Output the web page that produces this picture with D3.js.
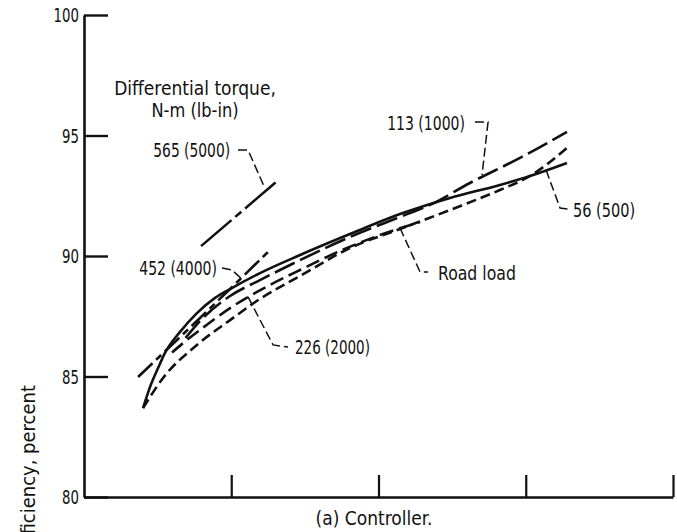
<!DOCTYPE html>
<html>
<head>
<meta charset="utf-8">
<script src="https://cdn.jsdelivr.net/npm/d3@7"></script>
<style>
  html, body { margin: 0; padding: 0; background: #fff; }
  svg { display: block; }
  text { font-family: "DejaVu Sans Condensed", "Liberation Sans Narrow", "Liberation Sans", sans-serif; fill: #111; }
</style>
</head>
<body>
<svg id="chart" width="677" height="532"></svg>
<script>
// Controller efficiency, percent, against speed (relative units) for several differential torques.
const yTicks = [80, 85, 90, 95, 100];
const xTicks = [1, 2, 3, 4];

const series56 = [
  [0.401, 83.69], [0.448, 84.56], [0.503, 85.35], [0.550, 85.98], [0.652, 86.85],
  [0.767, 87.63], [0.890, 88.26], [0.992, 88.63], [1.195, 89.29], [1.467, 90.04],
  [1.806, 90.91], [2.146, 91.74], [2.486, 92.41], [2.825, 92.95], [3.029, 93.32],
  [3.280, 93.86]
];
const series113 = [
  [0.690, 86.60], [0.788, 87.30], [0.992, 88.34],
  [1.195, 89.00], [1.467, 89.83], [1.806, 90.79], [2.146, 91.62], [2.350, 92.12],
  [2.621, 93.03], [2.961, 94.07], [3.280, 95.15]
];
const series226 = [
  [0.598, 86.00], [0.686, 86.45], [0.835, 87.15], [0.992, 87.84],
  [1.114, 88.30], [1.263, 88.80], [1.467, 89.42], [1.739, 90.21], [2.010, 90.87],
  [2.282, 91.41]
];
const series452 = [[0.367, 84.98], [0.788, 87.43], [1.250, 90.17]];
const series565 = [[0.795, 90.41], [1.304, 93.07]];
const seriesRoad = [
  [0.401, 83.69], [0.537, 84.94], [0.767, 86.31], [0.992, 87.34], [1.195, 88.22],
  [1.467, 89.17], [1.806, 90.33], [2.146, 91.12], [2.486, 91.91], [2.825, 92.74],
  [3.029, 93.32], [3.280, 94.48]
];

const curveLabels = ["56 (500)", "113 (1000)", "226 (2000)", "452 (4000)", "565 (5000)", "Road load"];

const svg = d3.select("#chart");
const x = d3.scaleLinear().domain([0, 4]).range([84, 673]);
const y = d3.scaleLinear().domain([80, 100]).range([497, 15]);

// Text drawn in a narrowed face: translate to the anchor, then squeeze horizontally.
function narrowText(g, px, py, str, opts) {
  const o = Object.assign({ size: 19, sx: 1, anchor: "start", dy: "0.35em" }, opts || {});
  return g.append("text")
    .attr("transform", `translate(${px},${py}) scale(${o.sx},1)`)
    .attr("text-anchor", o.anchor)
    .attr("dy", o.dy)
    .attr("font-size", o.size)
    .text(str);
}

// Axes
const yAxis = d3.axisLeft(y).tickValues(yTicks).tickSize(-24).tickSizeOuter(0).tickFormat("");
const gy = svg.append("g").attr("transform", `translate(${x(0)},0)`).call(yAxis);
gy.select(".domain").attr("stroke", "#111").attr("stroke-width", 2.6);
gy.selectAll(".tick line").attr("stroke", "#111").attr("stroke-width", 2.4);
const gyLabels = svg.append("g");
yTicks.forEach(v => narrowText(gyLabels, x(0) - 5, y(v), d3.format("d")(v),
  { size: 20, sx: 0.74, anchor: "end" }));

const xAxis = d3.axisBottom(x).tickValues(xTicks).tickSize(-22).tickSizeOuter(0).tickFormat("");
const gx = svg.append("g").attr("transform", `translate(0,${y(80)})`).call(xAxis);
gx.select(".domain").attr("stroke", "#111").attr("stroke-width", 2.6);
gx.selectAll(".tick line").attr("stroke", "#111").attr("stroke-width", 2.2);

// Curves
const line = d3.line().x(d => x(d[0])).y(d => y(d[1])).curve(d3.curveMonotoneX);
const curves = [
  { data: series56, dash: null },
  { data: series113, dash: "22,6" },
  { data: series226, dash: "14,6" },
  { data: series452, dash: "20,5,7,5" },
  { data: series565, dash: "40,5,8,5" },
  { data: seriesRoad, dash: "10,5" }
];
svg.append("g").selectAll("path").data(curves).join("path")
  .attr("d", d => line(d.data))
  .attr("fill", "none")
  .attr("stroke", "#111")
  .attr("stroke-width", 2.6)
  .attr("stroke-dasharray", d => d.dash);

// Leader lines and curve labels
const leaders = [
  { text: curveLabels[4], at: [0.992, 94.40], anchor: "end", sx: 0.81,
    path: [[1.046, 94.40], [1.114, 94.40], [1.222, 92.90]] },
  { text: curveLabels[3], at: [0.903, 89.50], anchor: "end", sx: 0.82,
    path: [[0.937, 89.50], [1.005, 89.42], [1.080, 89.00]] },
  { text: curveLabels[2], at: [1.433, 86.22], anchor: "start", sx: 0.79,
    path: [[1.114, 88.30], [1.284, 86.31], [1.385, 86.22]] },
  { text: curveLabels[1], at: [2.587, 95.52], anchor: "end", sx: 0.82,
    path: [[2.655, 95.56], [2.744, 95.56], [2.703, 93.36]] },
  { text: curveLabels[0], at: [3.321, 91.91], anchor: "start", sx: 0.85,
    path: [[3.138, 93.57], [3.233, 91.99], [3.287, 91.95]] },
  { text: curveLabels[5], at: [2.404, 89.29], anchor: "start", sx: 0.92,
    path: [[2.146, 91.16], [2.282, 89.34], [2.336, 89.34]] }
];
const straight = d3.line().x(d => x(d[0])).y(d => y(d[1]));
const gl = svg.append("g");
gl.selectAll("path").data(leaders).join("path")
  .attr("d", d => straight(d.path))
  .attr("fill", "none").attr("stroke", "#111").attr("stroke-width", 1.5)
  .attr("stroke-dasharray", "9,4");
leaders.forEach(d => narrowText(gl, x(d.at[0]), y(d.at[1]), d.text,
  { size: 19, sx: d.sx, anchor: d.anchor }));

// Legend heading
narrowText(svg, 195, 95, "Differential torque,", { anchor: "middle", dy: 0 });
narrowText(svg, 195, 117, "N-m (lb-in)", { anchor: "middle", dy: 0, sx: 0.95 });

// Y axis title (runs past the bottom edge)
svg.append("text").attr("transform", "translate(35,385) rotate(-90)")
  .attr("text-anchor", "end").attr("font-size", 20).text("Efficiency, percent");

// Caption
narrowText(svg, 374, 525, "(a) Controller.", { anchor: "middle", dy: 0 });
</script>
</body>
</html>
